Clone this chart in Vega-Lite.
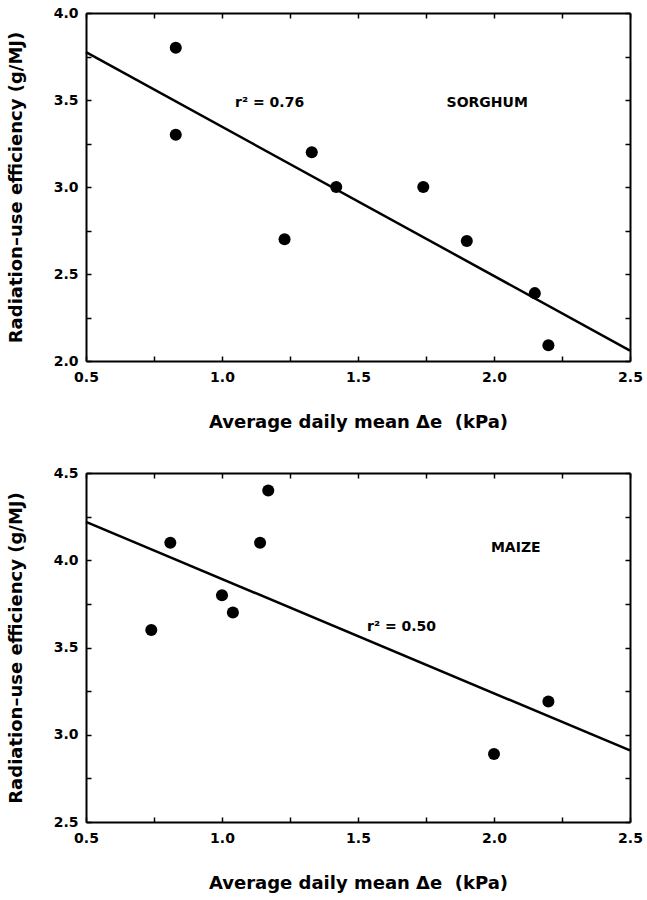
{
  "$schema": "https://vega.github.io/schema/vega-lite/v6.json",
  "padding": {"left": 7, "top": 6, "right": 8, "bottom": 5},
  "background": "white",
  "datasets": {
    "sorghum": [
      {"vpd": 0.83, "rue": 3.80},
      {"vpd": 0.83, "rue": 3.30},
      {"vpd": 1.23, "rue": 2.70},
      {"vpd": 1.33, "rue": 3.20},
      {"vpd": 1.42, "rue": 3.00},
      {"vpd": 1.74, "rue": 3.00},
      {"vpd": 1.90, "rue": 2.69},
      {"vpd": 2.15, "rue": 2.39},
      {"vpd": 2.20, "rue": 2.09}
    ],
    "sorghum_fit": [
      {"vpd": 0.5, "rue": 3.775},
      {"vpd": 2.5, "rue": 2.06}
    ],
    "sorghum_notes": [
      {"vpd": 1.175, "rue": 3.485, "label": "r² = 0.76"},
      {"vpd": 1.975, "rue": 3.485, "label": "SORGHUM"}
    ],
    "maize": [
      {"vpd": 0.74, "rue": 3.60},
      {"vpd": 0.81, "rue": 4.10},
      {"vpd": 1.00, "rue": 3.80},
      {"vpd": 1.04, "rue": 3.70},
      {"vpd": 1.14, "rue": 4.10},
      {"vpd": 1.17, "rue": 4.40},
      {"vpd": 2.00, "rue": 2.89},
      {"vpd": 2.20, "rue": 3.19}
    ],
    "maize_fit": [
      {"vpd": 0.5, "rue": 4.22},
      {"vpd": 2.5, "rue": 2.91}
    ],
    "maize_notes": [
      {"vpd": 1.66, "rue": 3.62, "label": "r² = 0.50"},
      {"vpd": 2.08, "rue": 4.07, "label": "MAIZE"}
    ]
  },
  "config": {
    "font": "DejaVu Sans",
    "view": {"stroke": null},
    "axis": {
      "grid": false,
      "domainColor": "black",
      "domainWidth": 2,
      "tickColor": "black",
      "tickWidth": 1.5,
      "tickSize": -5,
      "labelFlush": false,
      "labelOverlap": false,
      "labelFont": "DejaVu Sans",
      "labelFontWeight": "bold",
      "labelFontSize": 14,
      "labelColor": "black",
      "titleFont": "DejaVu Sans",
      "titleFontSize": 18,
      "titleFontWeight": "bold",
      "titleColor": "black"
    }
  },
  "spacing": 35,
  "vconcat": [
    {
      "width": 544,
      "height": 348,
      "resolve": {"axis": {"x": "independent", "y": "independent"}},
      "layer": [
        {
          "data": {"name": "sorghum"},
          "mark": {"type": "point", "filled": true, "color": "black", "opacity": 1, "size": 145},
          "encoding": {
            "x": {"field": "vpd", "type": "quantitative", "scale": {"domain": [0.5, 2.5], "nice": false, "zero": false},
              "axis": {"title": "Average daily mean Δe\u00a0\u00a0(kPa)", "values": [0.5, 0.75, 1.0, 1.25, 1.5, 1.75, 2.0, 2.25, 2.5], "labelExpr": "datum.value % 0.5 == 0 ? format(datum.value, '.1f') : ''", "labelPadding": 14, "titlePadding": 29}},
            "y": {"field": "rue", "type": "quantitative", "scale": {"domain": [2.0, 4.0], "nice": false, "zero": false},
              "axis": {"title": "Radiation–use efficiency (g/MJ)", "values": [2.0, 2.25, 2.5, 2.75, 3.0, 3.25, 3.5, 3.75, 4.0], "labelExpr": "datum.value % 0.5 == 0 ? format(datum.value, '.1f') : ''", "labelPadding": 13, "titlePadding": 28}}
          }
        },
        {
          "data": {"name": "sorghum_fit"},
          "mark": {"type": "line", "color": "black", "strokeWidth": 2.5},
          "encoding": {
            "x": {"field": "vpd", "type": "quantitative", "scale": {"domain": [0.5, 2.5], "nice": false, "zero": false},
              "axis": {"orient": "top", "title": null, "labels": false, "values": [0.5, 0.75, 1.0, 1.25, 1.5, 1.75, 2.0, 2.25, 2.5]}},
            "y": {"field": "rue", "type": "quantitative", "scale": {"domain": [2.0, 4.0], "nice": false, "zero": false},
              "axis": {"orient": "right", "title": null, "labels": false, "values": [2.0, 2.25, 2.5, 2.75, 3.0, 3.25, 3.5, 3.75, 4.0]}}
          }
        },
        {
          "data": {"name": "sorghum_notes"},
          "mark": {"type": "text", "fontWeight": "bold", "fontSize": 14, "color": "black", "baseline": "middle", "align": "center"},
          "encoding": {
            "x": {"field": "vpd", "type": "quantitative", "axis": null},
            "y": {"field": "rue", "type": "quantitative", "axis": null},
            "text": {"field": "label"}
          }
        }
      ]
    },
    {
      "width": 544,
      "height": 349,
      "resolve": {"axis": {"x": "independent", "y": "independent"}},
      "layer": [
        {
          "data": {"name": "maize"},
          "mark": {"type": "point", "filled": true, "color": "black", "opacity": 1, "size": 145},
          "encoding": {
            "x": {"field": "vpd", "type": "quantitative", "scale": {"domain": [0.5, 2.5], "nice": false, "zero": false},
              "axis": {"title": "Average daily mean Δe\u00a0\u00a0(kPa)", "values": [0.5, 0.75, 1.0, 1.25, 1.5, 1.75, 2.0, 2.25, 2.5], "labelExpr": "datum.value % 0.5 == 0 ? format(datum.value, '.1f') : ''", "labelPadding": 14, "titlePadding": 29}},
            "y": {"field": "rue", "type": "quantitative", "scale": {"domain": [2.5, 4.5], "nice": false, "zero": false},
              "axis": {"title": "Radiation–use efficiency (g/MJ)", "values": [2.5, 2.75, 3.0, 3.25, 3.5, 3.75, 4.0, 4.25, 4.5], "labelExpr": "datum.value % 0.5 == 0 ? format(datum.value, '.1f') : ''", "labelPadding": 13, "titlePadding": 28}}
          }
        },
        {
          "data": {"name": "maize_fit"},
          "mark": {"type": "line", "color": "black", "strokeWidth": 2.5},
          "encoding": {
            "x": {"field": "vpd", "type": "quantitative", "scale": {"domain": [0.5, 2.5], "nice": false, "zero": false},
              "axis": {"orient": "top", "title": null, "labels": false, "values": [0.5, 0.75, 1.0, 1.25, 1.5, 1.75, 2.0, 2.25, 2.5]}},
            "y": {"field": "rue", "type": "quantitative", "scale": {"domain": [2.5, 4.5], "nice": false, "zero": false},
              "axis": {"orient": "right", "title": null, "labels": false, "values": [2.5, 2.75, 3.0, 3.25, 3.5, 3.75, 4.0, 4.25, 4.5]}}
          }
        },
        {
          "data": {"name": "maize_notes"},
          "mark": {"type": "text", "fontWeight": "bold", "fontSize": 14, "color": "black", "baseline": "middle", "align": "center"},
          "encoding": {
            "x": {"field": "vpd", "type": "quantitative", "axis": null},
            "y": {"field": "rue", "type": "quantitative", "axis": null},
            "text": {"field": "label"}
          }
        }
      ]
    }
  ]
}
